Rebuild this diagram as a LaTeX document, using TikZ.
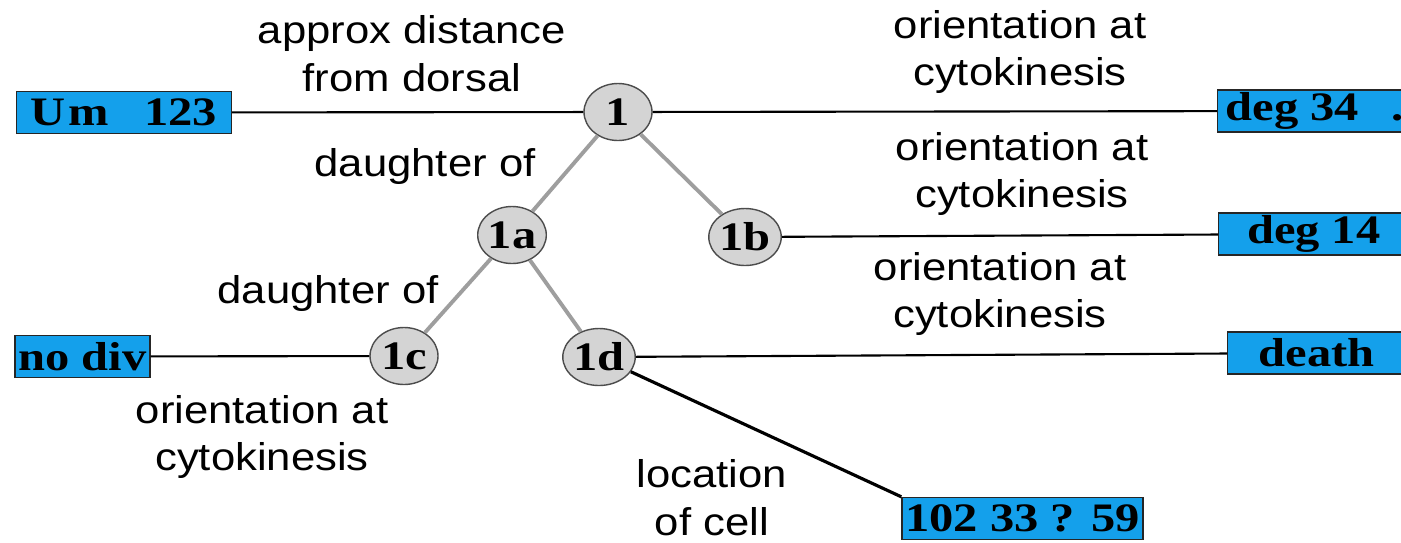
\documentclass[tikz,border=0pt]{standalone}
\usepackage{fontspec}
\setmainfont{Liberation Serif}
\newfontfamily\lblfont[FakeStretch=1.13]{Liberation Sans}
\newfontfamily\tagfont[FakeStretch=1.2]{Liberation Serif}
\usetikzlibrary{shapes.geometric}
\definecolor{tagblue}{RGB}{20,160,235}
\definecolor{cellgray}{RGB}{212,212,212}

\begin{document}
\begin{tikzpicture}[
cell/.style={ellipse,draw=black!70,fill=cellgray,minimum width=6.8mm,minimum height=5.7mm,inner sep=0pt,font=\tagfont\bfseries\fontsize{11.5}{12}\selectfont},
tag/.style={draw=black!85,fill=tagblue,minimum height=4.2mm,inner sep=0pt,font=\tagfont\bfseries\fontsize{11.5}{12}\selectfont},
lbl/.style={align=center,font=\lblfont\fontsize{11}{13.6}\selectfont},
link/.style={draw=black!38,line width=1.1pt},
tie/.style={draw=black,line width=0.6pt}
]
\useasboundingbox (0,0) rectangle (14.01,-5.42);

% cells
\node[cell] (c1) at (6.18,-1.12) {1};
\node[cell] (c1a) at (5.12,-2.35) {1a};
\node[cell] (c1b) at (7.45,-2.37) {1b};
\node[cell] (c1c) at (4.04,-3.56) {1c};
\node[cell] (c1d) at (5.99,-3.57) {1d};

% data boxes
\node[tag,minimum width=21.5mm] (dist) at (1.24,-1.125) {U\hspace{0.3mm}m\hspace{3.5mm}123};
\node[tag,anchor=west,minimum width=19mm,inner xsep=0.8mm] (ori1) at (12.17,-1.11) {deg 34\hspace{3.2mm}.};
\node[tag,anchor=west,minimum width=19mm] (ori1b) at (12.18,-2.34) {deg 14};
\node[tag,anchor=west,minimum width=17.8mm] (ori1d) at (12.27,-3.53) {death};
\node[tag,minimum width=13.5mm] (ori1c) at (0.825,-3.565) {no div};
\node[tag,minimum width=24.1mm] (loc) at (10.225,-5.185) {102 33 ? 59};

% labels
\node[lbl] (l1) at (4.12,-0.54) {approx distance\\from dorsal};
\node[lbl] (l2) at (10.20,-0.52) {orientation at\\cytokinesis};
\node[lbl] (l3) at (10.22,-1.74) {orientation at\\cytokinesis};
\node[lbl] (l4) at (10.00,-2.94) {orientation at\\cytokinesis};
\node[lbl] (l5) at (4.25,-1.66) {daughter of};
\node[lbl] (l6) at (3.28,-2.93) {daughter of};
\node[lbl] (l7) at (2.62,-4.37) {orientation at\\cytokinesis};
\node[lbl] (l8) at (7.12,-4.98) {location\\of cell};

% lineage
\draw[link] (c1) -- (c1a);
\draw[link] (c1) -- (c1b);
\draw[link] (c1a) -- (c1c);
\draw[link] (c1a) -- (c1d);

% attributes
\draw[tie] (dist) -- (c1);
\draw[tie] (c1) -- (ori1);
\draw[tie] (c1b) -- (ori1b);
\draw[tie] (ori1c) -- (c1c);
\draw[tie] (c1d) -- (ori1d);
\draw[tie,line width=0.9pt] (c1d) -- (loc.north west);
\end{tikzpicture}
\end{document}
